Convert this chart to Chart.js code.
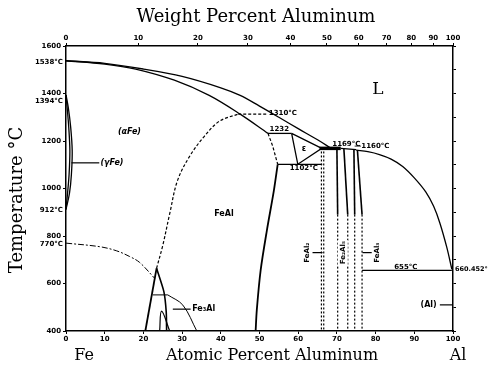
<!DOCTYPE html>
<html>
<head>
<meta charset="utf-8">
<script src="https://cdn.jsdelivr.net/npm/chart.js@4.4.0/dist/chart.umd.min.js"></script>
<style>
  html, body { margin: 0; padding: 0; background: #fff; }
  #wrap { width: 489px; height: 369px; }
</style>
</head>
<body>
<div id="wrap"><canvas id="phase"></canvas></div>
<script>
// x = atomic percent Al, y = temperature in °C
const weightTicks = [0, 10, 20, 30, 40, 50, 60, 70, 80, 90, 100];

const liquidus = [[0,1538],[10,1527],[20,1503],[30,1472],[40,1424],[45,1392],[50,1347],[55,1300],[60,1252],[65,1205],[68.5,1169]];
const solidus = [[0,1538],[10,1524],[18,1503],[28,1456],[37,1392],[45,1313],[52.2,1232]];
const liquidusAl = [[75,1162],[78,1155],[81,1143],[84,1124],[87,1093],[90,1045],[93,985],[95,925],[96.6,855],[98.4,752],[99.7,660]];

const gammaOuter = [[0,1394],[0.6,1340],[1.2,1260],[1.6,1160],[1.4,1060],[0.9,980],[0,912]];
const gammaInner = [[0,1394],[0.3,1340],[0.7,1260],[1.0,1160],[0.8,1060],[0.4,980],[0,912]];

const curie = [[0,770],[8.7,755],[13,738],[16.4,714],[19,689],[22.9,622]];
const curieFe3Al = [[26.3,552],[30.2,509],[33.8,400]];
const orderLine = [[23.4,664],[25,760],[26.8,894],[28.8,1033],[32,1137],[35.8,1221],[39.7,1284],[44.5,1313]];
const leader1310 = [[44.5,1313],[52,1313]];

const fe3AlLeft = [[20.5,400],[23.4,664]];
const fe3AlRight = [[23.4,664],[25.3,565],[25.9,480],[26,400]];
const fe3AlTie = [[22.4,552],[26.3,552]];
const fe3AlDome = [[24.2,400],[24.7,484],[26.8,400]];

const feAlEdgeUpper = [[52.2,1232],[53.4,1179],[54.7,1102]];
const feAlEdge = [[54.7,1102],[53.7,990],[51.9,823],[50.3,656],[49.3,488],[49,400]];
const peritectic1232 = [[52.2,1232],[58.3,1232]];
const epsilon = [[58.3,1232],[66.1,1169],[59.9,1102],[58.3,1232]];
const eutectoid1102 = [[54.7,1102],[66.2,1102]];
const plateau1169 = [[65.5,1169],[71,1169]];
const plateauThin = [[71,1169],[75,1164]];

const feAl2A = [[66,1156],[66,400]];
const feAl2B = [[66.6,1156],[66.6,400]];
const fe2Al5Left = [[70,1169],[70.2,890]];
const fe2Al5Right = [[71.8,1169],[72.8,890]];
const feAl3Left = [[74.4,1162],[74.6,890]];
const feAl3Right = [[75.3,1162],[76.5,890]];
const fe2Al5LeftLow = [[70.2,890],[70.2,400]];
const fe2Al5RightLow = [[72.8,890],[72.8,400]];
const feAl3LeftLow = [[74.6,890],[74.6,400]];
const feAl3RightLow = [[76.5,890],[76.5,400]];
const eutectic655 = [[76.5,655],[99.7,655]];

function wtToAt(w) {
  if (w <= 0) return 0;
  if (w >= 100) return 100;
  const a = w / 26.98, f = (100 - w) / 55.85;
  return 100 * a / (a + f);
}

function line(pts, opts) {
  return Object.assign({
    data: pts.map(p => ({ x: p[0], y: p[1] })),
    showLine: true,
    borderColor: '#000',
    borderWidth: 1.3,
    pointRadius: 0,
    tension: 0,
    fill: false
  }, opts || {});
}

const dash = { borderDash: [3, 2], borderWidth: 1.2 };
const smooth = { tension: 0.35 };

const datasets = [
  line(liquidus, smooth),
  line(solidus, smooth),
  line(liquidusAl, smooth),
  line(gammaOuter, smooth),
  line(gammaInner, smooth),
  line(curie, { tension: 0.35, borderDash: [6, 2, 2, 2], borderWidth: 1 }),
  line(curieFe3Al, { tension: 0.35, borderWidth: 1 }),
  line(orderLine, Object.assign({ tension: 0.35 }, dash)),
  line(leader1310, dash),
  line(fe3AlLeft, { borderWidth: 1.8 }),
  line(fe3AlRight, { tension: 0.2, borderWidth: 1.6 }),
  line(fe3AlTie, { borderWidth: 1 }),
  line(fe3AlDome, { tension: 0.4, borderWidth: 1.2 }),
  line(feAlEdgeUpper, dash),
  line(feAlEdge, { tension: 0.3, borderWidth: 1.8 }),
  line(peritectic1232),
  line(epsilon),
  line(eutectoid1102),
  line(plateau1169, { borderWidth: 3.5 }),
  line(plateauThin),
  line(feAl2A, { borderDash: [2, 2], borderWidth: 1.2 }),
  line(feAl2B, { borderDash: [2, 2], borderWidth: 1.2 }),
  line(fe2Al5Left, { borderWidth: 1.6 }),
  line(fe2Al5Right, { borderWidth: 1.6 }),
  line(feAl3Left, { borderWidth: 1.6 }),
  line(feAl3Right, { borderWidth: 1.6 }),
  line(fe2Al5LeftLow, { borderDash: [2, 2], borderWidth: 1.2 }),
  line(fe2Al5RightLow, { borderDash: [2, 2], borderWidth: 1.2 }),
  line(feAl3LeftLow, { borderDash: [2, 2], borderWidth: 1.2 }),
  line(feAl3RightLow, { borderDash: [2, 2], borderWidth: 1.2 }),
  line(eutectic655)
];

const serif = '"DejaVu Serif", "Liberation Serif", serif';
const small = 'bold 7px "DejaVu Sans", sans-serif';

// text annotations (phase names, invariant temperatures, axis titles)
const labelsPlugin = {
  id: 'labels',
  afterDraw(chart) {
    const ctx = chart.ctx;
    const xs = chart.scales.x, ys = chart.scales.y;
    const X = v => xs.getPixelForValue(v), Y = v => ys.getPixelForValue(v);
    ctx.save();
    ctx.fillStyle = '#000';
    ctx.strokeStyle = '#000';
    ctx.textBaseline = 'middle';

    function txt(s, x, y, font, align) {
      ctx.font = font;
      ctx.textAlign = align || 'left';
      ctx.fillText(s, x, y);
    }
    function seg(x1, y1, x2, y2, w) {
      ctx.lineWidth = w || 1.2;
      ctx.beginPath(); ctx.moveTo(x1, y1); ctx.lineTo(x2, y2); ctx.stroke();
    }
    function vtxt(s, x, y) {
      ctx.save();
      ctx.translate(x, y);
      ctx.rotate(-Math.PI / 2);
      ctx.font = small;
      const w = ctx.measureText(s).width;
      ctx.fillStyle = '#fff';
      ctx.fillRect(-w / 2 - 1, -5, w + 2, 10);
      ctx.fillStyle = '#000';
      ctx.textAlign = 'center';
      ctx.fillText(s, 0, 0);
      ctx.restore();
    }

    // axis titles
    txt('Weight Percent Aluminum', 256, 17, '18px ' + serif, 'center');
    txt('Atomic Percent Aluminum', 272, 356, '16px ' + serif, 'center');
    txt('Fe', 84, 356, '16px ' + serif, 'center');
    txt('Al', 458, 356, '16px ' + serif, 'center');
    ctx.save();
    ctx.translate(17, 200);
    ctx.rotate(-Math.PI / 2);
    txt('Temperature \u00B0C', 0, 0, '18px ' + serif, 'center');
    ctx.restore();

    // left-side invariant temperatures
    txt('1538\u00B0C', 63, Y(1538) + 1, small, 'right');
    txt('1394\u00B0C', 63, Y(1394) + 6, small, 'right');
    txt('912\u00B0C', 63, Y(912) + 1, small, 'right');
    txt('770\u00B0C', 63, Y(770) + 1, small, 'right');

    // phase fields
    txt('L', X(80.6), Y(1418), '17px ' + serif, 'center');
    txt('(\u03B1Fe)', X(16.4), Y(1238), 'bold italic 8px "DejaVu Sans", sans-serif', 'center');
    seg(X(1.4), Y(1108), X(8.6), Y(1108));
    txt('(\u03B3Fe)', X(8.9), Y(1108), 'bold italic 8px "DejaVu Sans", sans-serif', 'left');
    txt('FeAl', X(40.8), Y(894), 'bold 8px "DejaVu Sans", sans-serif', 'center');
    seg(X(27.6), Y(492), X(32.2), Y(492));
    txt('Fe\u2083Al', X(32.6), Y(492), 'bold 8px "DejaVu Sans", sans-serif', 'left');
    txt('\u03B5', X(61.5), Y(1166), 'bold 8px "DejaVu Sans", sans-serif', 'center');
    txt('(Al)', X(93.7), Y(510), 'bold 8px "DejaVu Sans", sans-serif', 'center');
    seg(X(96.6), Y(510), X(99.8), Y(510));

    // invariant temperatures
    txt('1310\u00B0C', X(52.4), Y(1318), small, 'left');
    txt('1232', X(52.6), Y(1249), small, 'left');
    txt('1102\u00B0C', X(57.8), Y(1085), small, 'left');
    txt('1169\u00B0C', X(68.8), Y(1187), small, 'left');
    txt('\u20141160\u00B0C', X(74.5), Y(1178), small, 'left');
    txt('655\u00B0C', X(87.8), Y(670), small, 'center');
    txt('660.452\u00B0', X(100.5), Y(658), 'bold 6.5px "DejaVu Sans", sans-serif', 'left');

    // intermetallic compounds
    vtxt('FeAl\u2082', X(62.2), Y(730));
    seg(X(63.7), Y(730), X(66.3), Y(730));
    vtxt('Fe\u2082Al\u2085', X(71.5), Y(730));
    vtxt('FeAl\u2083', X(80.4), Y(730));
    seg(X(76.6), Y(730), X(79), Y(730));
    ctx.restore();
  }
};

const tickFont = { size: 7, weight: 'bold', family: '"DejaVu Sans", sans-serif' };
const axisGrid = { drawOnChartArea: false, tickLength: 3, color: '#000' };
const axisBorder = { color: '#000', width: 1.5 };

new Chart(document.getElementById('phase'), {
  type: 'scatter',
  data: { datasets: datasets },
  options: {
    responsive: true,
    maintainAspectRatio: false,
    animation: false,
    layout: { padding: 0 },
    plugins: { legend: { display: false }, tooltip: { enabled: false } },
    scales: {
      x: {
        type: 'linear', position: 'bottom', min: 0, max: 100,
        ticks: { stepSize: 10, font: tickFont, color: '#000', padding: 1, maxRotation: 0 },
        grid: axisGrid, border: axisBorder,
        afterFit(s) { s.height = 38; }
      },
      x2: {
        type: 'linear', position: 'top', min: 0, max: 100,
        afterBuildTicks(s) { s.ticks = weightTicks.map(w => ({ value: wtToAt(w) })); },
        ticks: { autoSkip: false, font: tickFont, color: '#000', padding: 1, maxRotation: 0,
          callback: (v, i) => weightTicks[i] },
        grid: axisGrid, border: axisBorder,
        afterFit(s) { s.height = 46; }
      },
      y: {
        type: 'linear', position: 'left', min: 400, max: 1600,
        ticks: { stepSize: 200, font: tickFont, color: '#000', padding: 2, callback: v => String(v) },
        grid: axisGrid, border: axisBorder,
        afterFit(s) { s.width = 66; }
      },
      y2: {
        type: 'linear', position: 'right', min: 400, max: 1600,
        ticks: { display: false, stepSize: 100 },
        grid: axisGrid, border: axisBorder,
        afterFit(s) { s.width = 36; }
      }
    }
  },
  plugins: [labelsPlugin]
});
</script>
</body>
</html>
